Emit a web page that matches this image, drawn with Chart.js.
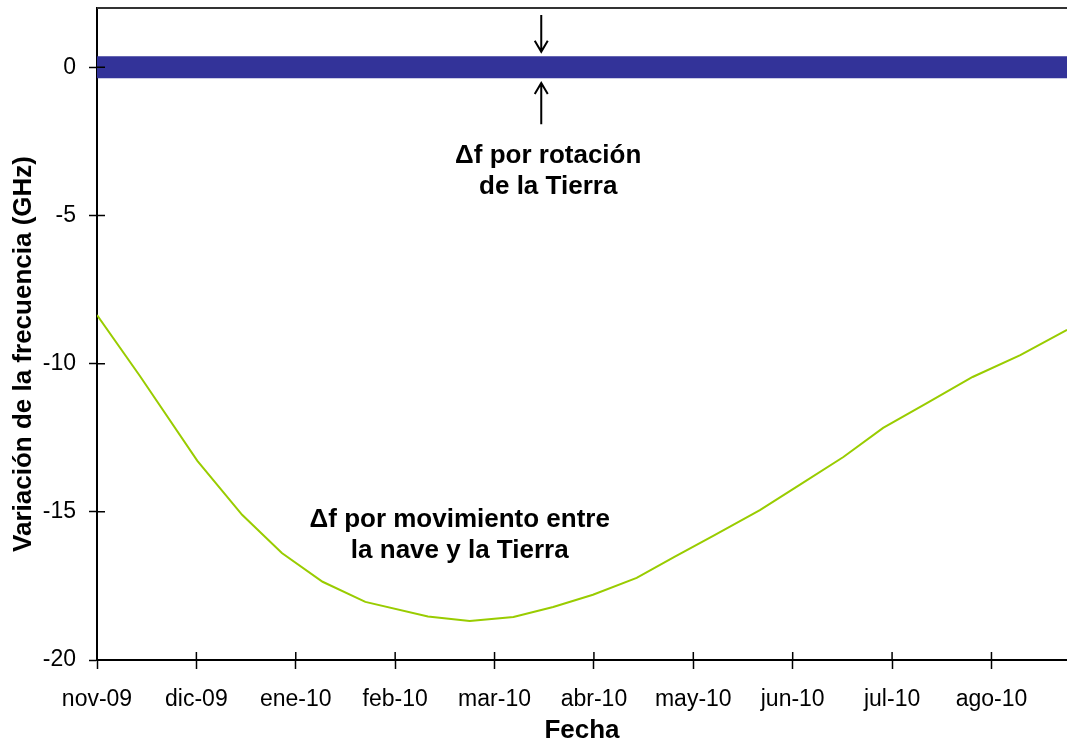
<!DOCTYPE html>
<html>
<head>
<meta charset="utf-8">
<script src="https://cdn.jsdelivr.net/npm/chart.js@4.4.0/dist/chart.umd.min.js"></script>
<style>
  body { margin: 0; background: #fff; }
  #wrap { width: 1067px; height: 744px; }
</style>
</head>
<body>
<div id="wrap"><canvas id="doppler"></canvas></div>
<script>
// meses (eje x, un tick por mes)
var meses = ['nov-09','dic-09','ene-10','feb-10','mar-10','abr-10','may-10','jun-10','jul-10','ago-10'];
var yTicks = [-20, -15, -10, -5, 0];

// fecha en meses desde nov-09 y variacion de frecuencia (GHz)
var fechas = [0, 0.43, 1.01, 1.46, 1.86, 2.27, 2.70, 3.33, 3.75, 4.19, 4.59, 4.99, 5.43, 5.81, 6.20, 6.67, 7.07, 7.51, 7.91, 8.35, 8.81, 9.29, 9.76];
var dfMovimiento = [-8.36, -10.41, -13.28, -15.10, -16.39, -17.36, -18.04, -18.53, -18.68, -18.55, -18.21, -17.80, -17.23, -16.52, -15.81, -14.94, -14.09, -13.15, -12.17, -11.33, -10.45, -9.71, -8.86];

// banda por rotacion de la Tierra (+/- GHz)
var bandaX = [0, 9.76];
var bandaSup = [0.37, 0.37];
var bandaInf = [-0.37, -0.37];

var FONT = '"Liberation Sans", Arial, sans-serif';
var tituloY = 'Variaci\u00f3n de la frecuencia (GHz)';

function pts(xs, ys) {
  return xs.map(function(x, i) { return {x: x, y: ys[i]}; });
}

// textos y flechas (coordenadas en unidades de los datos)
var notas = [
  {x: 4.54, y: -2.99, lines: ['\u0394f por rotaci\u00f3n', 'de la Tierra']},
  {x: 3.65, y: -15.26, lines: ['\u0394f por movimiento entre', 'la nave y la Tierra']}
];
var flechas = [
  {x: 4.47, from: 1.76, to: 0.52},
  {x: 4.47, from: -1.92, to: -0.53}
];

var extras = {
  id: 'extras',
  afterDraw: function(chart) {
    var ctx = chart.ctx, xs = chart.scales.x, ys = chart.scales.y, a = chart.chartArea;
    ctx.save();
    // marco superior
    ctx.strokeStyle = '#333';
    ctx.lineWidth = 2;
    ctx.beginPath();
    ctx.moveTo(a.left, a.top);
    ctx.lineTo(a.right, a.top);
    ctx.stroke();
    // parte interior de las marcas de los ejes
    ctx.strokeStyle = '#000';
    ctx.lineWidth = 1.5;
    ctx.beginPath();
    xs.ticks.forEach(function(t) {
      var px = xs.getPixelForValue(t.value);
      ctx.moveTo(px, a.bottom);
      ctx.lineTo(px, a.bottom - 8);
    });
    ys.ticks.forEach(function(t) {
      var py = ys.getPixelForValue(t.value);
      ctx.moveTo(a.left, py);
      ctx.lineTo(a.left + 8, py);
    });
    ctx.stroke();
    // flechas
    ctx.lineWidth = 2;
    flechas.forEach(function(f) {
      var px = xs.getPixelForValue(f.x);
      var y0 = ys.getPixelForValue(f.from), y1 = ys.getPixelForValue(f.to);
      var dir = y1 > y0 ? 1 : -1;
      ctx.beginPath();
      ctx.moveTo(px, y0);
      ctx.lineTo(px, y1);
      ctx.moveTo(px - 6.5, y1 - dir * 11);
      ctx.lineTo(px, y1);
      ctx.lineTo(px + 6.5, y1 - dir * 11);
      ctx.stroke();
    });
    // textos
    ctx.fillStyle = '#000';
    ctx.font = 'bold 26px ' + FONT;
    ctx.textAlign = 'center';
    ctx.textBaseline = 'middle';
    notas.forEach(function(n) {
      var px = xs.getPixelForValue(n.x), py = ys.getPixelForValue(n.y);
      n.lines.forEach(function(l, i) {
        ctx.fillText(l, px, py + i * 31);
      });
    });
    // titulo del eje y
    ctx.translate(24, (a.top + a.bottom) / 2 + 20);
    ctx.rotate(-Math.PI / 2);
    ctx.fillText(tituloY, 0, 0);
    ctx.restore();
  }
};

new Chart('doppler', {
  type: 'line',
  data: {
    datasets: [
      {
        data: pts(bandaX, bandaSup),
        borderWidth: 0,
        backgroundColor: '#333399',
        fill: '+1',
        pointRadius: 0
      },
      {
        data: pts(bandaX, bandaInf),
        borderWidth: 0,
        backgroundColor: '#333399',
        fill: false,
        pointRadius: 0
      },
      {
        data: pts(fechas, dfMovimiento),
        borderColor: '#99cc00',
        borderWidth: 2,
        fill: false,
        pointRadius: 0,
        tension: 0
      }
    ]
  },
  options: {
    responsive: true,
    maintainAspectRatio: false,
    animation: false,
    layout: { padding: { top: 8, right: 0, bottom: 0, left: 0 } },
    plugins: { legend: { display: false }, tooltip: { enabled: false } },
    scales: {
      x: {
        type: 'linear',
        min: 0,
        max: 9.76,
        afterFit: function(s) { s.height = 84; s.paddingLeft = 0; s.paddingRight = 0; },
        border: { color: '#000', width: 2 },
        grid: { drawOnChartArea: false, tickLength: 9, tickColor: '#000', tickWidth: 1.5 },
        ticks: {
          stepSize: 1,
          includeBounds: false,
          autoSkip: false,
          maxRotation: 0,
          padding: 17,
          color: '#000',
          font: { family: FONT, size: 23 },
          callback: function(v) { return meses[v]; }
        },
        title: {
          display: true,
          text: 'Fecha',
          color: '#000',
          padding: 0,
          font: { family: FONT, size: 26, weight: 'bold', lineHeight: 1 }
        }
      },
      y: {
        min: -20,
        max: 2,
        afterFit: function(s) { s.width = 97; s.paddingTop = 0; s.paddingBottom = 0; },
        afterBuildTicks: function(s) { s.ticks = yTicks.map(function(v) { return {value: v}; }); },
        border: { color: '#000', width: 2 },
        grid: { drawOnChartArea: false, tickLength: 8, tickColor: '#000', tickWidth: 1.5 },
        ticks: {
          padding: 13,
          color: '#000',
          font: { family: FONT, size: 23 }
        }
      }
    }
  },
  plugins: [extras]
});
</script>
</body>
</html>
